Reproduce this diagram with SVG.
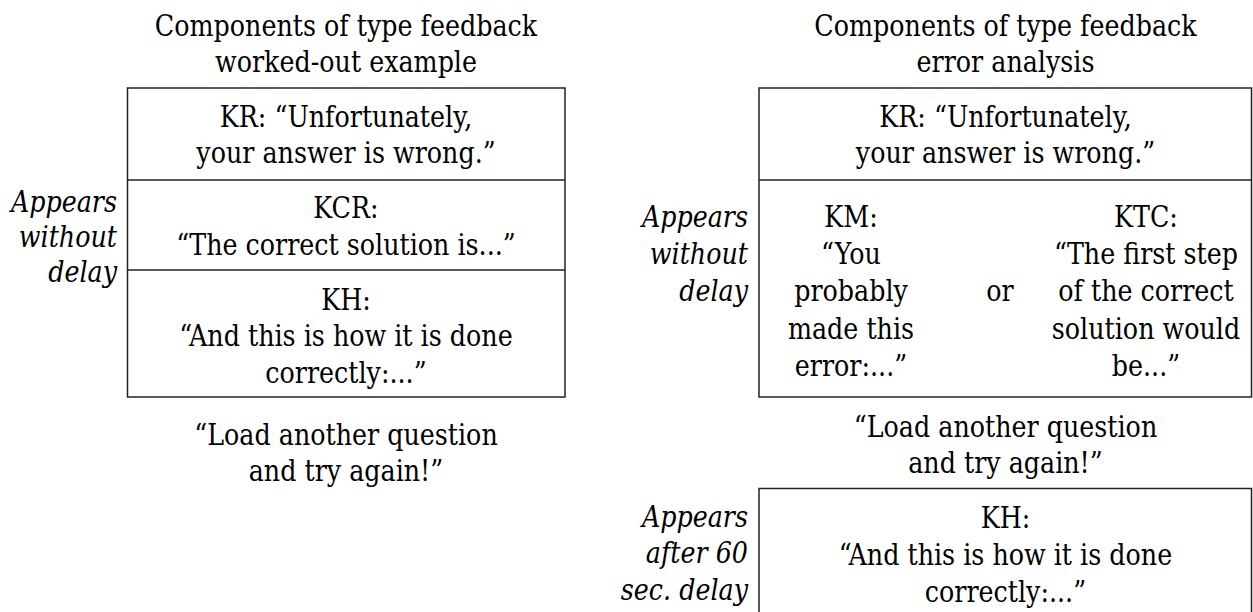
<svg xmlns="http://www.w3.org/2000/svg" width="1253" height="612" viewBox="0 0 1253 612">
<style>
text{font-family:'DejaVu Serif',serif;font-size:29px;fill:#000}
.c{text-anchor:middle}
.l{text-anchor:end;font-style:italic}
.box{fill:none;stroke:#222;stroke-width:1.5}
</style>
<rect width="1253" height="612" fill="#fff"/>
<g id="left-title" transform="translate(346 0) scale(.875 1)">
<text class="c" x="0" y="36.5">Components of type feedback</text>
<text class="c" x="0" y="72.5">worked-out example</text>
</g>
<g id="left-label" transform="translate(117 0) scale(.875 1)">
<text class="l" x="0" y="212">Appears</text>
<text class="l" x="0" y="247">without</text>
<text class="l" x="0" y="282">delay</text>
</g>
<g id="left-box">
<rect class="box" x="127.5" y="88" width="437.5" height="309"/>
<line class="box" x1="127.5" y1="180" x2="565" y2="180"/>
<line class="box" x1="127.5" y1="270" x2="565" y2="270"/>
</g>
<g id="left-kr" transform="translate(346 0) scale(.875 1)">
<text class="c" x="0" y="127">KR: “Unfortunately,</text>
<text class="c" x="0" y="163">your answer is wrong.”</text>
</g>
<g id="left-kcr" transform="translate(346 0) scale(.875 1)">
<text class="c" x="0" y="218">KCR:</text>
<text class="c" x="0" y="255">“The correct solution is...”</text>
</g>
<g id="left-kh" transform="translate(346 0) scale(.875 1)">
<text class="c" x="0" y="310">KH:</text>
<text class="c" x="0" y="346.5">“And this is how it is done</text>
<text class="c" x="0" y="383">correctly:...”</text>
</g>
<g id="left-load" transform="translate(346 0) scale(.875 1)">
<text class="c" x="0" y="445">“Load another question</text>
<text class="c" x="0" y="481.5">and try again!”</text>
</g>
<g id="right-title" transform="translate(1005.5 0) scale(.875 1)">
<text class="c" x="0" y="36.5">Components of type feedback</text>
<text class="c" x="0" y="72.5">error analysis</text>
</g>
<g id="right-label-1" transform="translate(748 0) scale(.875 1)">
<text class="l" x="0" y="227">Appears</text>
<text class="l" x="0" y="264">without</text>
<text class="l" x="0" y="301.5">delay</text>
</g>
<g id="right-box">
<rect class="box" x="759" y="88" width="492.5" height="309"/>
<line class="box" x1="759" y1="180" x2="1251.5" y2="180"/>
</g>
<g id="right-kr" transform="translate(1005.5 0) scale(.875 1)">
<text class="c" x="0" y="127">KR: “Unfortunately,</text>
<text class="c" x="0" y="163">your answer is wrong.”</text>
</g>
<g id="right-km" transform="translate(851 0) scale(.875 1)">
<text class="c" x="0" y="227">KM:</text>
<text class="c" x="0" y="264">“You</text>
<text class="c" x="0" y="301.5">probably</text>
<text class="c" x="0" y="339">made this</text>
<text class="c" x="0" y="376.5">error:...”</text>
</g>
<g id="right-or" transform="translate(1000 0) scale(.875 1)">
<text class="c" x="0" y="301.5">or</text>
</g>
<g id="right-ktc" transform="translate(1146 0) scale(.875 1)">
<text class="c" x="0" y="227">KTC:</text>
<text class="c" x="0" y="264">“The first step</text>
<text class="c" x="0" y="301.5">of the correct</text>
<text class="c" x="0" y="339">solution would</text>
<text class="c" x="0" y="376.5">be...”</text>
</g>
<g id="right-load" transform="translate(1005.5 0) scale(.875 1)">
<text class="c" x="0" y="437">“Load another question</text>
<text class="c" x="0" y="473.5">and try again!”</text>
</g>
<g id="right-label-2" transform="translate(748 0) scale(.875 1)">
<text class="l" x="0" y="527">Appears</text>
<text class="l" x="0" y="563.5">after 60</text>
<text class="l" x="0" y="600">sec. delay</text>
</g>
<g id="right-kh-box">
<rect class="box" x="759" y="488.5" width="492.5" height="140"/>
</g>
<g id="right-kh" transform="translate(1005.5 0) scale(.875 1)">
<text class="c" x="0" y="528">KH:</text>
<text class="c" x="0" y="565">“And this is how it is done</text>
<text class="c" x="0" y="602">correctly:...”</text>
</g>
<g id="connectors"></g>
</svg>
